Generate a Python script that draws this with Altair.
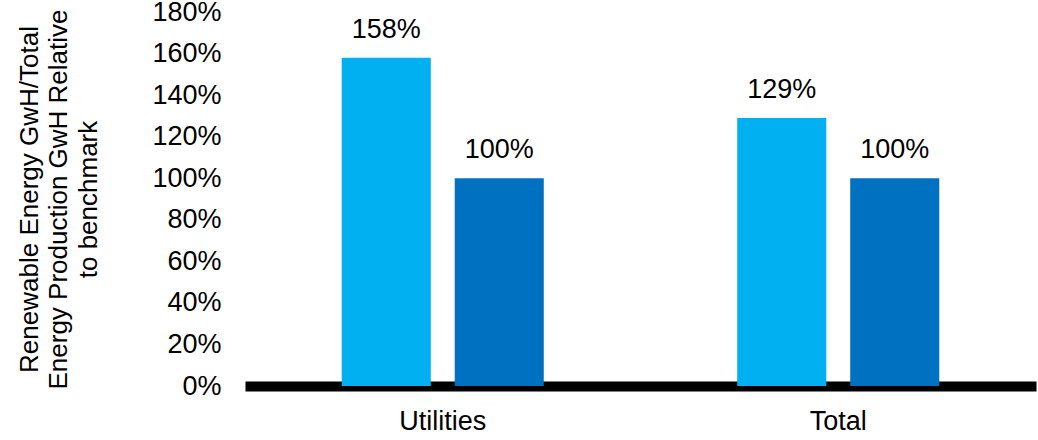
import altair as alt
import pandas as pd

categories = ["Utilities", "Utilities", "Total", "Total"]
series = ["Portfolio", "Benchmark", "Portfolio", "Benchmark"]
values = [1.58, 1.00, 1.29, 1.00]
series_order = ["Portfolio", "Benchmark"]
series_colors = ["#00B0F0", "#0070C0"]
y_ticks = [0, 0.2, 0.4, 0.6, 0.8, 1.0, 1.2, 1.4, 1.6, 1.8]
y_title = ["Renewable Energy GwH/Total", "Energy Production GwH Relative", "to benchmark"]

df = pd.DataFrame({"category": categories, "series": series, "value": values})

FONT = "Liberation Sans"

x_enc = alt.X("category:N", sort=["Utilities", "Total"],
              scale=alt.Scale(paddingInner=0, paddingOuter=0),
              axis=alt.Axis(title=None, labelFontSize=27, labelFont=FONT, labelColor="black",
                            labelPadding=22, ticks=False, domainColor="black", domainWidth=10,
                            labelAngle=0))
xoff = alt.XOffset("series:N", sort=series_order,
                   scale=alt.Scale(paddingInner=0.212, paddingOuter=0.856))
y_enc = alt.Y("value:Q", scale=alt.Scale(domain=[0, 1.8], nice=False),
              axis=alt.Axis(values=y_ticks, format=".0%", title=y_title, grid=False,
                            domain=False, ticks=False, labelFontSize=27, labelFont=FONT,
                            labelColor="black", labelPadding=24,
                            titleFontSize=26, titleFont=FONT, titleFontWeight="normal",
                            titleColor="black", titleLineHeight=29.5,
                            titleAngle=270, titleBaseline="middle", titleAlign="center",
                            titleX=-216, titleY=187))

bars = alt.Chart(df).mark_bar().encode(
    x=x_enc, xOffset=xoff, y=y_enc,
    color=alt.Color("series:N", sort=series_order,
                    scale=alt.Scale(domain=series_order, range=series_colors), legend=None),
)

labels = alt.Chart(df).mark_text(baseline="bottom", dy=-14, fontSize=27, font=FONT,
                                 color="black").encode(
    x=alt.X("category:N", sort=["Utilities", "Total"]),
    xOffset=alt.XOffset("series:N", sort=series_order),
    y="value:Q",
    text=alt.Text("value:Q", format=".0%"),
)

chart = alt.layer(bars, labels).properties(
    width=791, height=374,
    autosize=alt.AutoSizeParams(type="none"),
    padding={"left": 245, "top": 12, "right": 2, "bottom": 54},
).configure_view(stroke=None).configure_axisX(domainCap="butt")

chart.save("out.html", embed_options={"renderer": "svg", "actions": False})
